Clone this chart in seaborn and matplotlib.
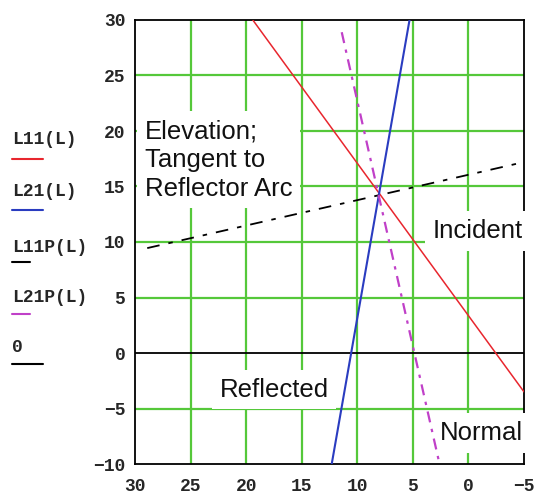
import matplotlib
matplotlib.use("Agg")
import matplotlib.pyplot as plt
from matplotlib.lines import Line2D
import seaborn as sns
import pandas as pd

# ---- data ----
l11_x = [19.4, -5.0]
l11_y = [30.0, -3.5]
l21_x = [12.3, 5.3]
l21_y = [-10.0, 30.0]
l11p_x = [28.9, -5.0]
l11p_y = [9.45, 17.2]
l21p_x = [11.4, 2.6]
l21p_y = [28.9, -10.0]
zero_x = [30.0, -5.0]
zero_y = [0.0, 0.0]

x_ticks = [30, 25, 20, 15, 10, 5, 0, -5]
y_ticks = [-10, -5, 0, 5, 10, 15, 20, 25, 30]
legend_labels = ["L11(L)", "L21(L)", "L11P(L)", "L21P(L)", "0"]

sns.set_style("white")
plt.rcParams["font.family"] = ["Liberation Mono", "DejaVu Sans"]

W, H = 535, 495
fig = plt.figure(figsize=(W / 100, H / 100), dpi=100)
ax = fig.add_axes([135 / W, 1 - 464 / H, (524 - 135) / W, (464 - 20) / H])

green = "#55c83a"
for xv in x_ticks[1:-1]:
    ax.axvline(xv, color=green, lw=1.6, zorder=1)
for yv in y_ticks[1:-1]:
    if yv != 0:
        ax.axhline(yv, color=green, lw=1.6, zorder=1)

def draw(x, y, color, ls, lw):
    df = pd.DataFrame({"x": x, "y": y})
    sns.lineplot(data=df, x="x", y="y", sort=False, estimator=None,
                 color=color, linestyle=ls, lw=lw, ax=ax, zorder=5)

draw(zero_x, zero_y, "black", "-", 1.3)
draw(l11_x, l11_y, "#e8262e", "-", 1.1)
draw(l21_x, l21_y, "#2a3cc0", "-", 1.5)
draw(l11p_x, l11p_y, "black", (0, (7, 5, 2.5, 5)), 1.3)
draw(l21p_x, l21p_y, "#c040c8", (0, (5, 3, 1.5, 3)), 1.6)

ax.set_xlim(30, -5)
ax.set_ylim(-10, 30)
ax.set_xticks(x_ticks)
ax.set_yticks(y_ticks)
ax.set_xticklabels([str(v).replace("-", "\u2212") for v in x_ticks])
ax.set_yticklabels([str(v).replace("-", "\u2212") for v in y_ticks])
ax.tick_params(length=0, labelsize=13)
ax.tick_params(axis="x", pad=10)
ax.tick_params(axis="y", pad=7)
for lab in ax.get_xticklabels() + ax.get_yticklabels():
    lab.set_fontweight("bold")
ax.set_xlabel("")
ax.set_ylabel("")
for s in ax.spines.values():
    s.set_color("black")
    s.set_linewidth(1.3)
    s.set_zorder(2)

tfont = dict(family=["Liberation Sans", "DejaVu Sans"], fontsize=18.5, color="#111111", zorder=4)
box = dict(boxstyle="square,pad=0.3", fc="white", ec="none")
ax.text(29.1, 17.4, "Elevation;\nTangent to\nReflector Arc", ha="left", va="center",
        linespacing=1.25, bbox=box, **tfont)
ax.text(-4.9, 11.0, "Incident", ha="right", va="center", bbox=box, clip_on=False, **tfont)
ax.text(22.4, -3.3, "Reflected", ha="left", va="center", bbox=box, **tfont)
ax.text(-4.9, -7.2, "Normal", ha="right", va="center", bbox=box, clip_on=False, **tfont)

# left-hand Mathcad-style legend
leg_colors = ["#e8262e", "#2a3cc0", "black", "#c040c8", "black"]
text_y = [140, 191, 247, 298, 347]
line_y = [158.5, 210, 262, 314, 364]
line_x2 = [43, 43, 30, 30, 43]
for lab, c, ty, ly, x2 in zip(legend_labels, leg_colors, text_y, line_y, line_x2):
    fig.text(12 / W, 1 - ty / H, lab, ha="left", va="center", fontsize=13,
             fontweight="bold", family=["Liberation Mono", "DejaVu Sans"])
    fig.add_artist(Line2D([12 / W, x2 / W], [1 - ly / H, 1 - ly / H],
                          color=c, lw=1.5, transform=fig.transFigure))

fig.savefig("out.png", dpi=100)
